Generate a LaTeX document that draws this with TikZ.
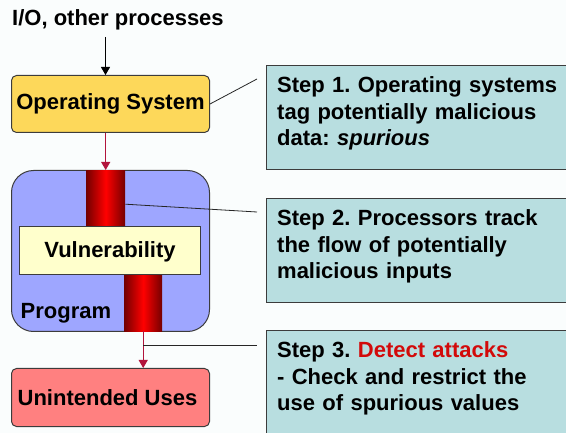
\documentclass[tikz,border=0pt]{standalone}
\usepackage{fontspec}
\setmainfont{Liberation Sans}
\usetikzlibrary{arrows.meta}
\frenchspacing

\definecolor{sfondo}{RGB}{250,253,253}
\definecolor{osgiallo}{RGB}{253,216,90}
\definecolor{progblu}{RGB}{158,166,255}
\definecolor{vulncrema}{RGB}{255,255,204}
\definecolor{usorosa}{RGB}{255,128,128}
\definecolor{passoazz}{RGB}{184,222,224}
\definecolor{bordo}{RGB}{60,60,60}
\definecolor{flussorosso}{RGB}{178,20,60}
\definecolor{attaccorosso}{RGB}{210,10,10}

\tikzset{
  scatola/.style={draw=bordo, line width=1pt, inner sep=0pt, anchor=north west},
  passo/.style={scatola, fill=passoazz, minimum width=320pt},
  testopasso/.style={anchor=base west, text width=285pt, align=left, inner sep=0pt},
  tubo/.style={inner sep=0pt, anchor=north west, left color=red!45!black, right color=red!45!black, middle color=red},
  flusso/.style={flussorosso, line width=1pt, -{Triangle[width=9pt,length=8pt]}},
  filo/.style={black!85, line width=0.8pt},
}

\begin{document}
\begin{tikzpicture}[x=1pt, y=-1pt, font=\fontsize{22}{26.5}\selectfont\bfseries]
        % Sfondo
        \useasboundingbox (0,0) rectangle (566,433);
        \fill[sfondo] (0,0) rectangle (566,433);
        \clip (0,0) rectangle (566,433);

        % Blocchi a sinistra
        \node[anchor=base west, inner sep=0pt] (io) at (12,26) {I/O, other processes};
        \node[scatola, fill=osgiallo, rounded corners=5pt, minimum width=198pt, minimum height=57pt] (os) at (11,75) {};
        \node at (os.center) {Operating System};
        \node[scatola, fill=progblu, rounded corners=22pt, minimum width=198pt, minimum height=161pt] (prog) at (11,170) {};

        % Flusso dei dati dentro il programma
        \node[tubo, minimum width=39pt, minimum height=57pt] (pipein) at (86,170) {};
        \node[tubo, minimum width=38pt, minimum height=57pt] (pipeout) at (124,274) {};
        \node[scatola, fill=vulncrema, minimum width=181pt, minimum height=48pt] (vuln) at (19,226) {};
        \node at ([yshift=-1.5pt]vuln.center) {Vulnerability};
        \node[anchor=base west, inner sep=0pt] (proglab) at (20.5,319) {Program};

        \node[scatola, fill=usorosa, rounded corners=5pt, minimum width=198pt, minimum height=58pt] (uses) at (11,368) {};
        \node at ([xshift=-3pt]uses.center) {Unintended Uses};

        % Passi a destra
        \node[passo, minimum height=104pt] (step1) at (266,65) {};
        \node[passo, minimum height=104pt] (step2) at (266,198) {};
        \node[passo, minimum height=130pt] (step3) at (266,330) {};
        \node[testopasso] (t1) at (277,93) {Step 1. Operating systems\\tag potentially malicious\\data: \textit{spurious}};
        \node[testopasso] (t2) at (277,226) {Step 2. Processors track\\the flow of potentially\\malicious inputs};
        \node[testopasso] (t3) at (277,358) {Step 3. \textcolor{attaccorosso}{Detect attacks}\\- Check and restrict the\\use of spurious values};

        % Frecce
        \draw[line width=1pt, -{Triangle[width=9pt,length=8pt]}, shorten <=6pt]
            ([xshift=-5pt]os.north |- io.south) -- ([xshift=-5pt]os.north);
        \draw[flusso] (os.south -| pipein.north) -- (pipein.north);
        \draw[flusso] (pipeout.south) -- (pipeout.south |- uses.north);

        % Linee verso i passi
        \coordinate (p1) at (257,79);
        \coordinate (p2) at (257,212);
        \coordinate (p3) at (257,345);
        \coordinate (tap) at (pipeout.south |- p3);
        \draw[filo] (os.east) -- (p1);
        \draw[filo] ([yshift=-5.5pt]pipein.east) -- (p2);
        \draw[filo] (tap) -- (p3);
    \end{tikzpicture}
\end{document}
